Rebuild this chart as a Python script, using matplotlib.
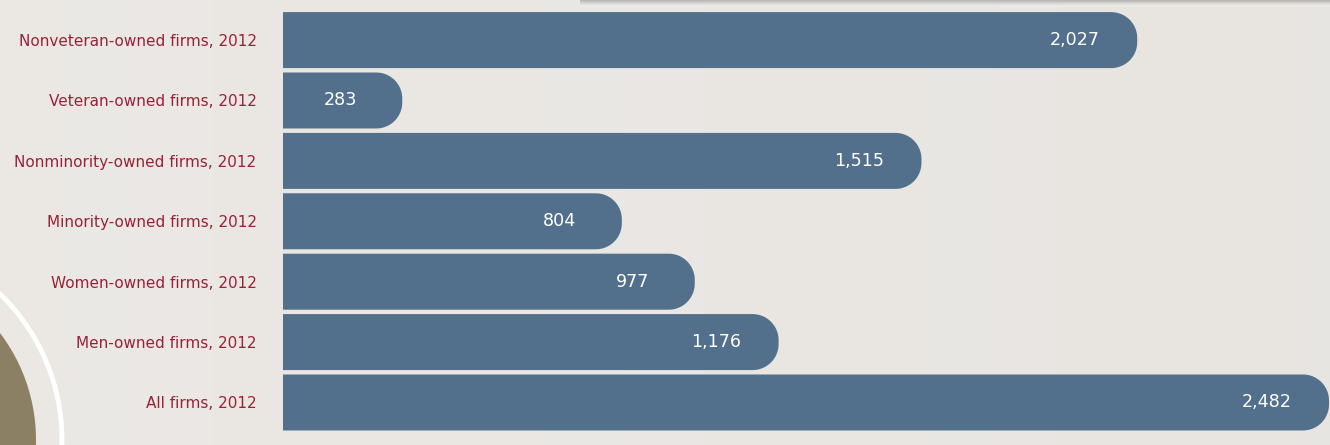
import numpy as np
import matplotlib
matplotlib.use('Agg')
import matplotlib.pyplot as plt
from matplotlib.patches import Polygon, Circle

# data, top to bottom as in the picture
categories = ['Nonveteran-owned firms, 2012', 'Veteran-owned firms, 2012',
              'Nonminority-owned firms, 2012', 'Minority-owned firms, 2012',
              'Women-owned firms, 2012', 'Men-owned firms, 2012', 'All firms, 2012']
values = [2027, 283, 1515, 804, 977, 1176, 2482]

bar_color = '#526f8b'
label_color = '#9a2236'
bg_color = '#ece9e5'
W, H = 1330, 445
fam = ['Liberation Sans Narrow', 'DejaVu Sans']

fig = plt.figure(figsize=(W / 100, H / 100), dpi=100)
fig.patch.set_facecolor(bg_color)

# background decorations in pixel coords
bg = fig.add_axes([0, 0, 1, 1], zorder=0)
grad = np.linspace(0, 1, 200).reshape(1, -1)
bg.imshow(np.vstack([grad] * 2), extent=(0, W, H, 0), cmap='Greys', alpha=0.05,
          aspect='auto', vmin=-1, vmax=3)
# darker shadow along the top right
shade = np.linspace(1, 0, 20).reshape(-1, 1) * np.ones((1, 50))
bg.imshow(shade, extent=(580, W, 7, 0), cmap='Greys', alpha=0.35, aspect='auto',
          vmin=0, vmax=1.4)
bg.add_patch(Circle((-141, 440), 203, fill=False, ec='white', lw=3.5))
bg.add_patch(Circle((-141, 440), 177, fc='#8b8064', ec='none'))
bg.set_xlim(0, W)
bg.set_ylim(H, 0)
bg.axis('off')

# bar chart
ax = fig.add_axes([283 / W, 0, 1047 / W, 1], zorder=1)
ax.patch.set_alpha(0)
xmax = 1047 / (1046 / max(values))
ax.set_xlim(0, xmax)
ax.set_ylim(-0.704, 6.664)
px_x = 1047 / xmax
px_y = H / (6.664 + 0.704)

h = 0.927
r = 26
rx, ry = r / px_x, r / px_y
th = np.linspace(0, np.pi / 2, 20)
n = len(values)
ypos = np.arange(n)[::-1]
vtexts = []
for v, yc in zip(values, ypos):
    y0, y1 = yc - h / 2, yc + h / 2
    pts = [(0, y0), (v - rx, y0)]
    pts += [(v - rx + rx * np.sin(t), y0 + ry - ry * np.cos(t)) for t in th]
    pts += [(v - rx + rx * np.cos(t), y1 - ry + ry * np.sin(t)) for t in th]
    pts += [(0, y1)]
    ax.add_patch(Polygon(pts, closed=True, fc=bar_color, ec='none'))
    t = ax.text(v - 62 / px_x, yc, f'{v:,}', ha='center', va='center', color='white',
                fontsize=15, family=fam)
    vtexts.append(t)

ax.set_yticks(ypos)
ax.set_yticklabels(categories, color=label_color, fontsize=15, family=fam)
ax.tick_params(axis='y', length=0, pad=19)
ax.set_xticks([])
for s in ax.spines.values():
    s.set_visible(False)

# fit text sizes to the widths in the reference
fig.canvas.draw()
rend = fig.canvas.get_renderer()
lab = ax.get_yticklabels()[2]
w = lab.get_window_extent(rend).width
ls = min(15 * 243 / w, 22)
for l in ax.get_yticklabels():
    l.set_fontsize(ls)
w = vtexts[-1].get_window_extent(rend).width
vs = min(15 * 50 / w, 22)
for t in vtexts:
    t.set_fontsize(vs)

fig.savefig('out.png', dpi=100, facecolor=fig.get_facecolor())
